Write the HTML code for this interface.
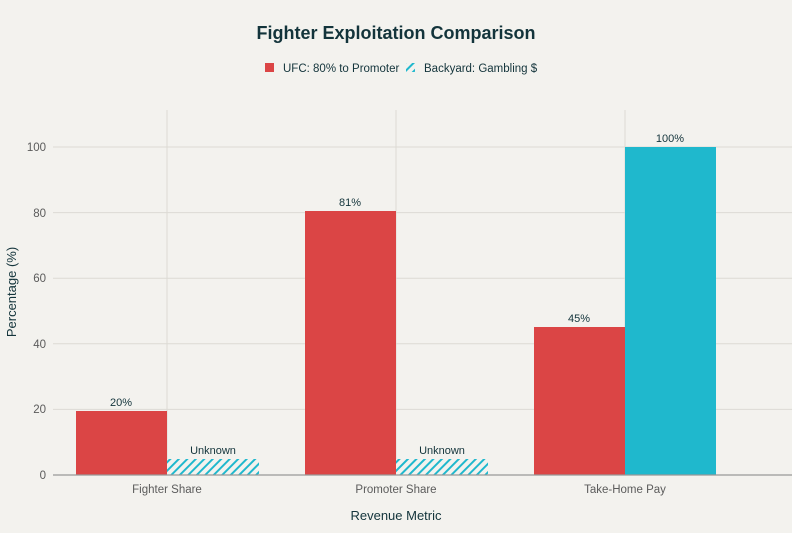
<!DOCTYPE html><html><head><style>body{margin:0;background:#f3f2ee}</style></head><body>
<svg width="792" height="528" xmlns="http://www.w3.org/2000/svg" font-family="Liberation Sans, sans-serif">
<defs><pattern id="h" width="6" height="6" patternUnits="userSpaceOnUse" patternTransform="rotate(45)"><rect width="6" height="6" fill="#f3f2ee"/><rect width="2" height="6" fill="#1fb8cd"/></pattern></defs>
<rect width="792" height="528" fill="#f3f2ee"/>
<text x="396" y="39" text-anchor="middle" font-size="18" font-weight="bold" fill="#13343b">Fighter Exploitation Comparison</text>
<rect x="265" y="63" width="9" height="9" fill="#db4545"/>
<text x="283" y="72" font-size="11.5" fill="#13343b">UFC: 80% to Promoter</text>
<rect x="406" y="63" width="9" height="9" fill="url(#h)"/>
<text x="424" y="72" font-size="11.5" fill="#13343b">Backyard: Gambling $</text>
<g stroke="#dcdad4" stroke-width="1">
<line x1="53" x2="792" y1="409.4" y2="409.4"/><line x1="53" x2="792" y1="343.8" y2="343.8"/><line x1="53" x2="792" y1="278.2" y2="278.2"/><line x1="53" x2="792" y1="212.6" y2="212.6"/><line x1="53" x2="792" y1="147" y2="147"/>
<line x1="167" x2="167" y1="110" y2="475"/><line x1="396" x2="396" y1="110" y2="475"/><line x1="625" x2="625" y1="110" y2="475"/>
</g>
<g font-size="11.5" fill="#5b5b5b" text-anchor="end">
<text x="46" y="479">0</text><text x="46" y="413">20</text><text x="46" y="348">40</text><text x="46" y="282">60</text><text x="46" y="217">80</text><text x="46" y="151">100</text></g>
<rect x="76" y="411" width="91" height="64" fill="#db4545"/>
<rect x="167" y="459" width="92" height="16" fill="url(#h)"/>
<rect x="305" y="211" width="91" height="264" fill="#db4545"/>
<rect x="396" y="459" width="92" height="16" fill="url(#h)"/>
<rect x="534" y="327" width="91" height="148" fill="#db4545"/>
<rect x="625" y="147" width="91" height="328" fill="#1fb8cd"/>
<line x1="53" x2="792" y1="475" y2="475" stroke="#999" stroke-width="1.2"/>
<g font-size="11" fill="#13343b" text-anchor="middle">
<text x="121" y="406">20%</text><text x="213" y="454">Unknown</text>
<text x="350" y="206">81%</text><text x="442" y="454">Unknown</text>
<text x="579" y="322">45%</text><text x="670" y="142">100%</text></g>
<g font-size="11.5" fill="#5b5b5b" text-anchor="middle">
<text x="167" y="493">Fighter Share</text><text x="396" y="493">Promoter Share</text><text x="625" y="493">Take-Home Pay</text></g>
<text x="396" y="520" text-anchor="middle" font-size="13" fill="#13343b">Revenue Metric</text>
<text transform="translate(16,292) rotate(-90)" text-anchor="middle" font-size="13" fill="#13343b">Percentage (%)</text>
</svg></body></html>
